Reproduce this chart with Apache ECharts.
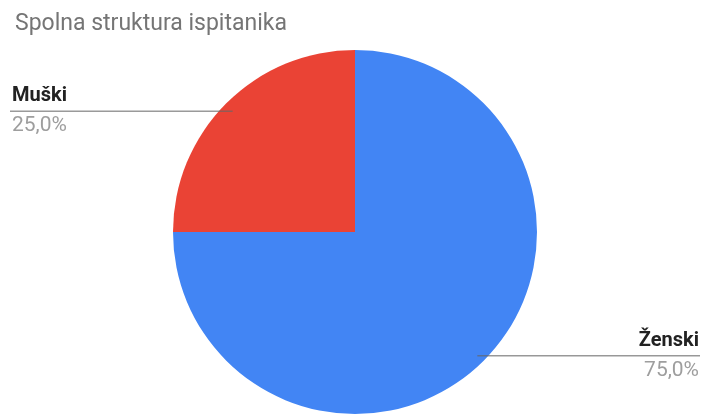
<!DOCTYPE html>
<html>
<head>
<meta charset="utf-8">
<script src="https://cdn.jsdelivr.net/npm/echarts@6/dist/echarts.min.js"></script>
<style>
  html, body { margin: 0; padding: 0; background: #fff; }
  #chart { width: 701px; height: 414px; }
</style>
</head>
<body>
<div id="chart"></div>
<script>
  const categories = ["Ženski", "Muški"];
  const values = [75, 25];
  const colors = ["#4285F4", "#EA4335"];

  const CX = 355, CY = 232, R = 182;
  const chart = echarts.init(document.getElementById("chart"), null, { renderer: "canvas" });
  const W = chart.getWidth();

  const pieBase = {
    type: "pie",
    center: [CX, CY],
    radius: [0, R],
    startAngle: 90,
    clockwise: true,
    emphasis: { disabled: true },
    silent: true
  };

  chart.setOption({
    animation: false,
    title: {
      text: "Spolna struktura ispitanika",
      left: 10, top: 8,
      textStyle: { fontFamily: "Roboto", fontSize: 23, fontWeight: "normal", color: "#757575" }
    },
    series: [
      // the slices
      Object.assign({}, pieBase, {
        z: 2,
        data: categories.map((c, i) => ({ name: c, value: values[i], itemStyle: { color: colors[i] } })),
        itemStyle: { borderWidth: 0 },
        label: { show: false },
        labelLine: { show: false }
      }),
      // same pie, transparent, on top: carries labels so the leader lines sit above the slices
      Object.assign({}, pieBase, {
        z: 3,
        data: categories.map((c, i) => ({ name: c, value: values[i] })),
        itemStyle: { color: "rgba(0,0,0,0)", borderWidth: 0 },
        label: {
          show: true,
          position: "outside",
          formatter: (p) => "{n|" + p.name + "}\n{v|" + p.percent.toFixed(1).replace(".", ",") + "%}",
          rich: {
            n: { fontFamily: "Roboto", fontSize: 20, fontWeight: "bold", color: "#222", lineHeight: 30 },
            v: { fontFamily: "Roboto", fontSize: 21, color: "#9e9e9e", lineHeight: 30 }
          }
        },
        labelLine: { show: true, length: 5, length2: 5, lineStyle: { color: "#666", width: 1, opacity: 1 } },
        labelLayout: function (p) {
          // anchor a bit inside the slice, along its mid angle
          const p0 = p.labelLinePoints[0];
          const a = Math.atan2(p0[1] - CY, p0[0] - CX);
          const ax = CX + Math.cos(a) * 173, ay = CY + Math.sin(a) * 173 + 1.5;
          const left = ax < CX;
          const ex = left ? 10 : W - 1;
          return {
            x: left ? 12 : W - 2,
            y: ay,
            align: left ? "left" : "right",
            verticalAlign: "middle",
            labelLinePoints: [[ax, ay], [ax, ay], [ex, ay]]
          };
        }
      })
    ]
  });
</script>
</body>
</html>
